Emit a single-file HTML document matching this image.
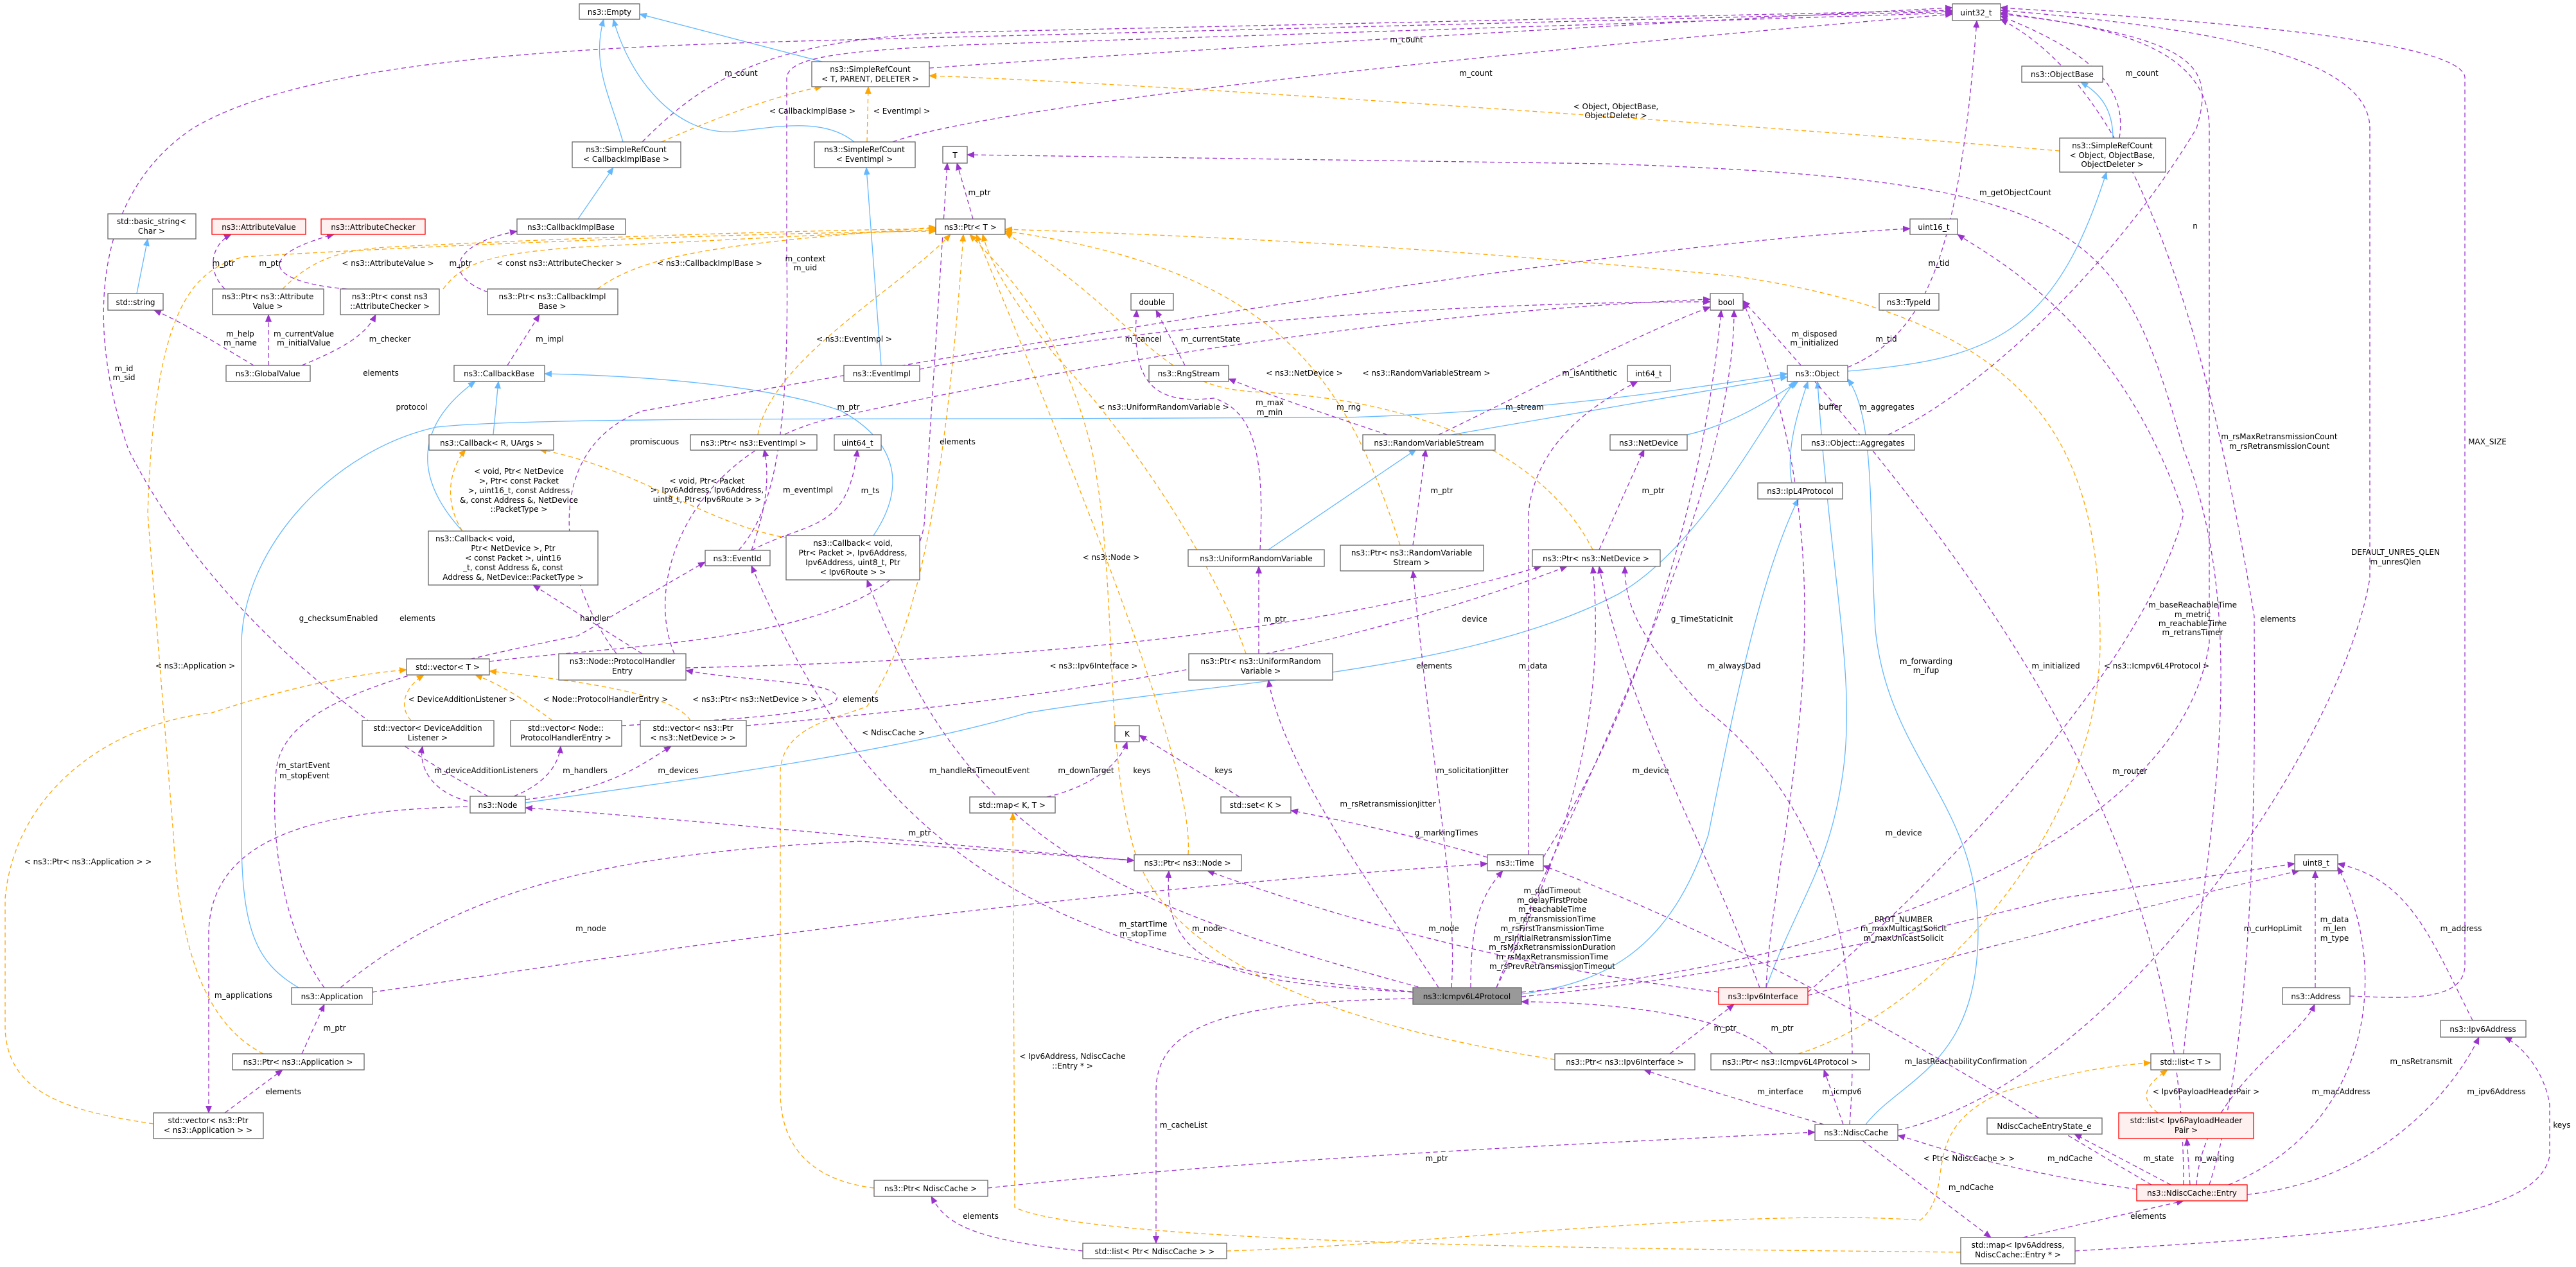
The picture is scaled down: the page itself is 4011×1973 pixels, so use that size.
<!DOCTYPE html>
<html><head><meta charset="utf-8"><style>
html,body{margin:0;padding:0;background:#fff}
svg{display:block}
text{font-family:"DejaVu Sans","Liberation Sans",sans-serif;font-size:12px;fill:#000}
.n{fill:#fff;stroke:#666;stroke-width:1.3}
.r{fill:#fff0f0;stroke:#f00;stroke-width:1.3}
.g{fill:#999;stroke:#666;stroke-width:1.3}
.p{fill:none;stroke:#9a32cd;stroke-width:1.3;stroke-dasharray:7,5}
.o{fill:none;stroke:#ffa500;stroke-width:1.3;stroke-dasharray:7,5}
.b{fill:none;stroke:#63b8ff;stroke-width:1.3}
</style></head><body>
<svg width="4011" height="1973" viewBox="0 0 4011 1973" xmlns="http://www.w3.org/2000/svg">
<defs>
<marker id="mp" markerWidth="12" markerHeight="10" refX="11" refY="5" orient="auto" markerUnits="userSpaceOnUse"><path d="M0,0 L12,5 L0,10 z" fill="#9a32cd"/></marker>
<marker id="mo" markerWidth="12" markerHeight="10" refX="11" refY="5" orient="auto" markerUnits="userSpaceOnUse"><path d="M0,0 L12,5 L0,10 z" fill="#ffa500"/></marker>
<marker id="mb" markerWidth="12" markerHeight="10" refX="11" refY="5" orient="auto" markerUnits="userSpaceOnUse"><path d="M0,0 L12,5 L0,10 z" fill="#63b8ff"/></marker>
</defs>
<g id="blue" marker-end="url(#mb)">
<path class="b" d="M1280,96 L996,22"/>
<path class="b" d="M970,221 C950,150 920,100 940,30"/>
<path class="b" d="M1330,221 C1280,180 1200,200 1140,205 C1050,210 980,120 955,30"/>
<path class="b" d="M900,341 L955,261"/>
<path class="b" d="M213,457 L230,372"/>
<path class="b" d="M768,677 L776,594"/>
<path class="b" d="M720,827 C640,740 650,660 740,594"/>
<path class="b" d="M1360,834 C1410,760 1400,690 1310,640 C1200,600 1000,585 848,582"/>
<path class="b" d="M1372,569 L1349,261"/>
<path class="b" d="M818,1250 C1100,1210 1400,1170 1600,1110 C1900,1060 2280,1050 2520,925 C2650,850 2750,650 2795,594"/>
<path class="b" d="M465,1538 C400,1500 376,1450 376,1300 L376,1000 C380,850 520,700 680,665 C800,652 1200,652 1600,652 L2100,650 C2400,640 2600,610 2783,582"/>
<path class="b" d="M2260,677 L2783,587"/>
<path class="b" d="M2627,677 C2700,660 2760,620 2800,594"/>
<path class="b" d="M1975,856 L2205,700"/>
<path class="b" d="M2790,752 C2780,700 2800,640 2815,594"/>
<path class="b" d="M2369,1548 C2500,1530 2600,1480 2660,1300 C2700,1100 2740,900 2800,777"/>
<path class="b" d="M2750,1538 C2800,1400 2850,1350 2870,1200 C2890,1050 2850,900 2830,594"/>
<path class="b" d="M2905,1751 C2960,1680 3080,1660 3080,1450 C3080,1250 2940,1180 2920,980 C2910,800 2920,650 2877,590"/>
<path class="b" d="M2877,578 C3100,560 3200,520 3280,268"/>
<path class="b" d="M3290,215 C3290,170 3270,145 3240,128"/>
</g>
<g id="orange" marker-end="url(#mo)">
<path class="o" d="M1030,221 C1100,190 1200,150 1280,135"/>
<path class="o" d="M1350,221 L1352,135"/>
<path class="o" d="M3207,235 C2800,200 1800,130 1447,118"/>
<path class="o" d="M440,450 C480,410 520,390 600,385 C900,370 1200,360 1457,356"/>
<path class="o" d="M690,450 C720,410 760,395 900,385 C1200,370 1350,362 1457,358"/>
<path class="o" d="M930,450 C1000,400 1100,380 1457,354"/>
<path class="o" d="M1180,677 C1200,560 1400,450 1480,365"/>
<path class="o" d="M410,1641 C330,1600 280,1500 270,1300 L230,800 C240,500 290,420 380,400 C700,380 1200,362 1457,360"/>
<path class="o" d="M1850,1331 C1860,1200 1700,800 1520,365"/>
<path class="o" d="M2421,1650 C2100,1600 1800,1500 1760,1300 C1720,1150 1740,900 1700,700 C1650,500 1560,420 1510,365"/>
<path class="o" d="M1940,1018 C1900,900 1780,700 1640,550 C1580,470 1545,420 1530,365"/>
<path class="o" d="M2180,849 C2100,600 2000,420 1565,360"/>
<path class="o" d="M2480,856 C2400,700 2200,620 1950,610 C1800,600 1780,500 1565,362"/>
<path class="o" d="M2800,1641 C3000,1580 3270,1300 3270,1000 C3270,700 3180,500 2700,430 C2200,380 1800,365 1565,357"/>
<path class="o" d="M1361,1850 C1280,1840 1215,1800 1215,1700 L1215,1200 C1220,1130 1300,1120 1350,1100 C1420,1000 1470,800 1500,365"/>
<path class="o" d="M640,1122 C620,1100 630,1070 660,1051"/>
<path class="o" d="M860,1122 C830,1100 790,1070 740,1051"/>
<path class="o" d="M1075,1122 C1050,1080 900,1060 762,1045"/>
<path class="o" d="M239,1750 C100,1730 10,1700 8,1600 L8,1400 C20,1250 150,1130 330,1110 C450,1070 550,1050 633,1043"/>
<path class="o" d="M3053,1950 C2600,1945 1700,1940 1580,1880 L1577,1266"/>
<path class="o" d="M1910,1948 C2200,1940 2700,1880 2990,1900 C3050,1850 2980,1760 3120,1700 C3220,1670 3280,1660 3349,1655"/>
<path class="o" d="M3360,1733 C3330,1710 3340,1690 3375,1666"/>
<path class="o" d="M720,827 C690,780 700,730 725,700"/>
<path class="o" d="M1240,840 C1100,820 1000,730 840,700"/>
</g>
<g id="purple" marker-end="url(#mp)">
<path class="p" d="M1000,221 C1100,120 1200,60 1500,50 L3040,16"/>
<path class="p" d="M1390,221 C1500,180 2000,110 3040,22"/>
<path class="p" d="M1447,106 C1800,80 2500,40 3040,12"/>
<path class="p" d="M760,1240 C500,1100 300,900 200,700 C130,500 150,300 300,200 C500,80 1000,70 1400,60 L3040,18"/>
<path class="p" d="M1150,857 C1200,800 1230,700 1225,400 L1225,120 C1230,90 1300,80 1500,70 L3040,20"/>
<path class="p" d="M2877,572 C3000,520 3050,400 3078,32"/>
<path class="p" d="M3300,215 C3310,150 3280,90 3115,25"/>
<path class="p" d="M2940,677 C3100,600 3300,400 3420,200 C3450,100 3420,60 3115,20"/>
<path class="p" d="M2369,1545 C2900,1500 3400,1300 3440,1000 L3440,200 C3440,80 3300,40 3115,22"/>
<path class="p" d="M3440,1845 C3520,1600 3510,1100 3510,960 C3450,600 3350,150 3115,30"/>
<path class="p" d="M2955,1760 C3300,1680 3650,1150 3690,900 L3690,200 C3690,80 3400,40 3115,16"/>
<path class="p" d="M3659,1551 C3750,1555 3840,1560 3838,1500 L3838,120 C3830,60 3400,30 3115,12"/>
<path class="p" d="M1515,341 L1490,254"/>
<path class="p" d="M762,1030 C1000,1000 1440,1000 1440,800 L1475,254"/>
<path class="p" d="M3400,1641 C3420,1400 3520,1000 3400,700 C3300,350 3250,280 2500,255 L1506,241"/>
<path class="p" d="M350,450 C320,420 330,380 360,365"/>
<path class="p" d="M540,450 C420,440 390,400 520,365"/>
<path class="p" d="M760,455 C690,430 700,380 805,360"/>
<path class="p" d="M395,569 C330,530 280,500 240,483"/>
<path class="p" d="M418,569 L418,490"/>
<path class="p" d="M470,569 C540,540 570,520 585,490"/>
<path class="p" d="M790,569 L840,490"/>
<path class="p" d="M1170,857 C1190,800 1200,750 1190,700"/>
<path class="p" d="M1170,857 C1260,810 1320,830 1335,700"/>
<path class="p" d="M505,1538 C440,1450 420,1300 430,1200 C440,1100 600,1050 900,990 L1098,875"/>
<path class="p" d="M1845,569 L1800,483"/>
<path class="p" d="M1962,856 C1970,700 1950,640 1890,620 C1800,630 1760,600 1770,483"/>
<path class="p" d="M1432,575 C1800,500 2300,470 2663,470"/>
<path class="p" d="M2240,677 C2400,600 2550,520 2663,478"/>
<path class="p" d="M2160,677 C2050,640 1990,620 1913,590"/>
<path class="p" d="M2200,849 L2220,700"/>
<path class="p" d="M2490,856 L2560,700"/>
<path class="p" d="M1960,1018 L1960,882"/>
<path class="p" d="M1068,1040 C1500,1030 2000,1000 2400,882"/>
<path class="p" d="M1000,1018 L830,911"/>
<path class="p" d="M1162,1130 C1500,1100 2000,1050 2440,882"/>
<path class="p" d="M2380,1331 L2380,800 C2390,680 2500,620 2550,594"/>
<path class="p" d="M2403,1335 C2550,1100 2650,800 2680,483"/>
<path class="p" d="M2290,1538 C2290,1450 2300,1400 2340,1356"/>
<path class="p" d="M3350,1845 C3100,1700 2800,1500 2403,1348"/>
<path class="p" d="M580,1545 C900,1500 1500,1400 2316,1345"/>
<path class="p" d="M530,1538 C700,1400 900,1330 1340,1310 L1766,1340"/>
<path class="p" d="M2200,1545 C1900,1530 1810,1500 1820,1356"/>
<path class="p" d="M2676,1545 C2300,1500 2000,1400 1880,1356"/>
<path class="p" d="M1766,1340 C1300,1300 1000,1270 818,1258"/>
<path class="p" d="M740,1256 C500,1260 330,1300 325,1450 L325,1733"/>
<path class="p" d="M470,1641 L505,1564"/>
<path class="p" d="M350,1733 L440,1666"/>
<path class="p" d="M740,1250 C680,1240 650,1200 658,1162"/>
<path class="p" d="M800,1240 C850,1220 870,1190 873,1162"/>
<path class="p" d="M818,1245 C950,1230 1000,1190 1045,1162"/>
<path class="p" d="M968,1130 C1150,1120 1330,1110 1300,1080 C1280,1060 1150,1060 1068,1044"/>
<path class="p" d="M2220,1540 C1700,1400 1500,1300 1350,903"/>
<path class="p" d="M2210,1545 C1600,1500 1350,1300 1170,881"/>
<path class="p" d="M1630,1241 C1680,1230 1740,1200 1755,1155"/>
<path class="p" d="M1930,1241 L1774,1145"/>
<path class="p" d="M2316,1335 C2200,1300 2100,1280 2010,1262"/>
<path class="p" d="M2240,1538 C2150,1400 2000,1200 1975,1059"/>
<path class="p" d="M2260,1538 C2270,1400 2230,1200 2200,889"/>
<path class="p" d="M2330,1538 C2450,1300 2500,1100 2480,882"/>
<path class="p" d="M2740,1538 C2650,1300 2530,1100 2490,882"/>
<path class="p" d="M2880,1751 C2900,1500 2850,1250 2650,1100 C2560,1000 2530,950 2530,882"/>
<path class="p" d="M2330,1538 C2420,1300 2700,800 2700,483"/>
<path class="p" d="M2750,1538 C2760,1300 2900,900 2714,470"/>
<path class="p" d="M3400,1845 C3400,1400 3200,1000 2714,468"/>
<path class="p" d="M2815,1545 C3100,1300 3350,1000 3400,800 C3300,500 3100,400 3048,365"/>
<path class="p" d="M960,1018 C870,900 840,700 1000,640 C1500,550 2500,380 2974,356"/>
<path class="p" d="M1050,1018 C1000,900 1080,700 1300,650 C1800,540 2300,480 2663,466"/>
<path class="p" d="M2369,1552 C2700,1520 3000,1450 3200,1400 L3573,1345"/>
<path class="p" d="M2815,1550 C3000,1500 3300,1420 3580,1356"/>
<path class="p" d="M3605,1538 L3605,1356"/>
<path class="p" d="M3850,1589 C3780,1450 3750,1370 3640,1345"/>
<path class="p" d="M3420,1845 C3430,1700 3580,1620 3604,1564"/>
<path class="p" d="M3499,1860 C3700,1840 3820,1700 3860,1615"/>
<path class="p" d="M3231,1948 C3700,1920 3950,1900 3970,1800 L3970,1720 C3960,1660 3920,1625 3900,1615"/>
<path class="p" d="M3470,1845 C3700,1750 3720,1500 3640,1350"/>
<path class="p" d="M3327,1852 C3100,1820 3000,1780 2955,1768"/>
<path class="p" d="M2900,1776 L3100,1927"/>
<path class="p" d="M3150,1927 L3400,1870"/>
<path class="p" d="M3380,1845 L3230,1766"/>
<path class="p" d="M3410,1845 L3405,1773"/>
<path class="p" d="M2840,1751 C2700,1710 2600,1680 2560,1666"/>
<path class="p" d="M2870,1751 L2840,1666"/>
<path class="p" d="M2600,1641 L2700,1564"/>
<path class="p" d="M2760,1641 C2700,1580 2500,1560 2369,1560"/>
<path class="p" d="M1538,1850 C2000,1800 2500,1780 2826,1763"/>
<path class="p" d="M1686,1948 C1500,1930 1470,1900 1450,1863"/>
<path class="p" d="M2200,1555 C1900,1560 1800,1600 1800,1700 L1800,1936"/>
</g>
<g id="nodes">
<rect class="n" x="902" y="6" width="94" height="24"/><text x="949" y="23" text-anchor="middle">ns3::Empty</text>
<rect class="n" x="1264" y="96" width="183" height="39"/><text x="1355" y="112" text-anchor="middle">ns3::SimpleRefCount</text><text x="1355" y="127" text-anchor="middle">&lt; T, PARENT, DELETER &gt;</text>
<rect class="n" x="891" y="221" width="169" height="40"/><text x="975" y="237" text-anchor="middle">ns3::SimpleRefCount</text><text x="975" y="252" text-anchor="middle">&lt; CallbackImplBase &gt;</text>
<rect class="n" x="1268" y="221" width="157" height="40"/><text x="1346" y="237" text-anchor="middle">ns3::SimpleRefCount</text><text x="1346" y="252" text-anchor="middle">&lt; EventImpl &gt;</text>
<rect class="n" x="1468" y="228" width="38" height="26"/><text x="1487" y="246" text-anchor="middle">T</text>
<rect class="n" x="3040" y="6" width="75" height="26"/><text x="3077" y="24" text-anchor="middle">uint32_t</text>
<rect class="n" x="3148" y="103" width="126" height="25"/><text x="3211" y="120" text-anchor="middle">ns3::ObjectBase</text>
<rect class="n" x="3207" y="215" width="165" height="53"/><text x="3289" y="231" text-anchor="middle">ns3::SimpleRefCount</text><text x="3289" y="246" text-anchor="middle">&lt; Object, ObjectBase,</text><text x="3289" y="260" text-anchor="middle">ObjectDeleter &gt;</text>
<rect class="n" x="168" y="333" width="137" height="39"/><text x="236" y="349" text-anchor="middle">std::basic_string&lt;</text><text x="236" y="364" text-anchor="middle">Char &gt;</text>
<rect class="r" x="330" y="341" width="146" height="24"/><text x="403" y="358" text-anchor="middle">ns3::AttributeValue</text>
<rect class="r" x="500" y="341" width="162" height="24"/><text x="581" y="358" text-anchor="middle">ns3::AttributeChecker</text>
<rect class="n" x="805" y="341" width="169" height="24"/><text x="889" y="358" text-anchor="middle">ns3::CallbackImplBase</text>
<rect class="n" x="1457" y="341" width="108" height="24"/><text x="1511" y="358" text-anchor="middle">ns3::Ptr&lt; T &gt;</text>
<rect class="n" x="2974" y="341" width="74" height="24"/><text x="3011" y="358" text-anchor="middle">uint16_t</text>
<rect class="n" x="168" y="457" width="86" height="26"/><text x="211" y="475" text-anchor="middle">std::string</text>
<rect class="n" x="331" y="450" width="173" height="40"/><text x="417" y="466" text-anchor="middle">ns3::Ptr&lt; ns3::Attribute</text><text x="417" y="481" text-anchor="middle">Value &gt;</text>
<rect class="n" x="530" y="450" width="154" height="40"/><text x="607" y="466" text-anchor="middle">ns3::Ptr&lt; const ns3</text><text x="607" y="481" text-anchor="middle">::AttributeChecker &gt;</text>
<rect class="n" x="759" y="450" width="203" height="40"/><text x="860" y="466" text-anchor="middle">ns3::Ptr&lt; ns3::CallbackImpl</text><text x="860" y="481" text-anchor="middle">Base &gt;</text>
<rect class="n" x="1761" y="457" width="66" height="26"/><text x="1794" y="475" text-anchor="middle">double</text>
<rect class="n" x="2663" y="457" width="51" height="26"/><text x="2688" y="475" text-anchor="middle">bool</text>
<rect class="n" x="2926" y="457" width="93" height="26"/><text x="2972" y="475" text-anchor="middle">ns3::TypeId</text>
<rect class="n" x="352" y="569" width="131" height="25"/><text x="417" y="586" text-anchor="middle">ns3::GlobalValue</text>
<rect class="n" x="707" y="569" width="141" height="25"/><text x="777" y="586" text-anchor="middle">ns3::CallbackBase</text>
<rect class="n" x="1314" y="569" width="118" height="25"/><text x="1373" y="586" text-anchor="middle">ns3::EventImpl</text>
<rect class="n" x="1789" y="569" width="124" height="25"/><text x="1851" y="586" text-anchor="middle">ns3::RngStream</text>
<rect class="n" x="2534" y="569" width="67" height="25"/><text x="2567" y="586" text-anchor="middle">int64_t</text>
<rect class="n" x="2783" y="569" width="94" height="25"/><text x="2830" y="586" text-anchor="middle">ns3::Object</text>
<rect class="n" x="668" y="677" width="194" height="24"/><text x="765" y="694" text-anchor="middle">ns3::Callback&lt; R, UArgs &gt;</text>
<rect class="n" x="1075" y="677" width="197" height="24"/><text x="1173" y="694" text-anchor="middle">ns3::Ptr&lt; ns3::EventImpl &gt;</text>
<rect class="n" x="1299" y="677" width="73" height="24"/><text x="1335" y="694" text-anchor="middle">uint64_t</text>
<rect class="n" x="2122" y="677" width="206" height="24"/><text x="2225" y="694" text-anchor="middle">ns3::RandomVariableStream</text>
<rect class="n" x="2507" y="677" width="120" height="24"/><text x="2567" y="694" text-anchor="middle">ns3::NetDevice</text>
<rect class="n" x="2805" y="677" width="176" height="24"/><text x="2893" y="694" text-anchor="middle">ns3::Object::Aggregates</text>
<rect class="n" x="2737" y="752" width="132" height="25"/><text x="2803" y="769" text-anchor="middle">ns3::IpL4Protocol</text>
<rect class="n" x="667" y="827" width="264" height="84"/><text x="678" y="843">ns3::Callback&lt; void,</text><text x="799" y="858" text-anchor="middle">Ptr&lt; NetDevice &gt;, Ptr</text><text x="799" y="873" text-anchor="middle">&lt; const Packet &gt;, uint16</text><text x="799" y="888" text-anchor="middle">_t, const Address &amp;, const</text><text x="799" y="903" text-anchor="middle">Address &amp;, NetDevice::PacketType &gt;</text>
<rect class="n" x="1098" y="857" width="101" height="24"/><text x="1148" y="874" text-anchor="middle">ns3::EventId</text>
<rect class="n" x="1224" y="834" width="208" height="69"/><text x="1328" y="850" text-anchor="middle">ns3::Callback&lt; void,</text><text x="1328" y="865" text-anchor="middle">Ptr&lt; Packet &gt;, Ipv6Address,</text><text x="1328" y="880" text-anchor="middle">Ipv6Address, uint8_t, Ptr</text><text x="1328" y="895" text-anchor="middle">&lt; Ipv6Route &gt; &gt;</text>
<rect class="n" x="1850" y="856" width="212" height="26"/><text x="1956" y="874" text-anchor="middle">ns3::UniformRandomVariable</text>
<rect class="n" x="2087" y="849" width="223" height="40"/><text x="2198" y="865" text-anchor="middle">ns3::Ptr&lt; ns3::RandomVariable</text><text x="2198" y="880" text-anchor="middle">Stream &gt;</text>
<rect class="n" x="2386" y="856" width="199" height="26"/><text x="2485" y="874" text-anchor="middle">ns3::Ptr&lt; ns3::NetDevice &gt;</text>
<rect class="n" x="633" y="1026" width="129" height="25"/><text x="697" y="1043" text-anchor="middle">std::vector&lt; T &gt;</text>
<rect class="n" x="870" y="1018" width="198" height="41"/><text x="969" y="1034" text-anchor="middle">ns3::Node::ProtocolHandler</text><text x="969" y="1049" text-anchor="middle">Entry</text>
<rect class="n" x="1851" y="1018" width="224" height="41"/><text x="1963" y="1034" text-anchor="middle">ns3::Ptr&lt; ns3::UniformRandom</text><text x="1963" y="1049" text-anchor="middle">Variable &gt;</text>
<rect class="n" x="564" y="1122" width="205" height="40"/><text x="666" y="1138" text-anchor="middle">std::vector&lt; DeviceAddition</text><text x="666" y="1153" text-anchor="middle">Listener &gt;</text>
<rect class="n" x="795" y="1122" width="173" height="40"/><text x="881" y="1138" text-anchor="middle">std::vector&lt; Node::</text><text x="881" y="1153" text-anchor="middle">ProtocolHandlerEntry &gt;</text>
<rect class="n" x="997" y="1122" width="165" height="40"/><text x="1079" y="1138" text-anchor="middle">std::vector&lt; ns3::Ptr</text><text x="1079" y="1153" text-anchor="middle">&lt; ns3::NetDevice &gt; &gt;</text>
<rect class="n" x="1736" y="1130" width="38" height="25"/><text x="1755" y="1147" text-anchor="middle">K</text>
<rect class="n" x="732" y="1240" width="86" height="26"/><text x="775" y="1258" text-anchor="middle">ns3::Node</text>
<rect class="n" x="1510" y="1241" width="133" height="25"/><text x="1576" y="1258" text-anchor="middle">std::map&lt; K, T &gt;</text>
<rect class="n" x="1901" y="1241" width="109" height="25"/><text x="1955" y="1258" text-anchor="middle">std::set&lt; K &gt;</text>
<rect class="n" x="1766" y="1331" width="167" height="25"/><text x="1849" y="1348" text-anchor="middle">ns3::Ptr&lt; ns3::Node &gt;</text>
<rect class="n" x="2316" y="1331" width="87" height="25"/><text x="2359" y="1348" text-anchor="middle">ns3::Time</text>
<rect class="n" x="3573" y="1331" width="67" height="25"/><text x="3606" y="1348" text-anchor="middle">uint8_t</text>
<rect class="n" x="454" y="1538" width="126" height="26"/><text x="517" y="1556" text-anchor="middle">ns3::Application</text>
<rect class="g" x="2200" y="1538" width="169" height="26"/><text x="2284" y="1556" text-anchor="middle">ns3::Icmpv6L4Protocol</text>
<rect class="r" x="2676" y="1538" width="139" height="26"/><text x="2745" y="1556" text-anchor="middle">ns3::Ipv6Interface</text>
<rect class="n" x="3554" y="1538" width="105" height="26"/><text x="3606" y="1556" text-anchor="middle">ns3::Address</text>
<rect class="n" x="3800" y="1589" width="133" height="26"/><text x="3866" y="1607" text-anchor="middle">ns3::Ipv6Address</text>
<rect class="n" x="362" y="1641" width="205" height="25"/><text x="464" y="1658" text-anchor="middle">ns3::Ptr&lt; ns3::Application &gt;</text>
<rect class="n" x="2421" y="1641" width="218" height="25"/><text x="2530" y="1658" text-anchor="middle">ns3::Ptr&lt; ns3::Ipv6Interface &gt;</text>
<rect class="n" x="2664" y="1641" width="247" height="25"/><text x="2787" y="1658" text-anchor="middle">ns3::Ptr&lt; ns3::Icmpv6L4Protocol &gt;</text>
<rect class="n" x="3349" y="1641" width="108" height="25"/><text x="3403" y="1658" text-anchor="middle">std::list&lt; T &gt;</text>
<rect class="n" x="239" y="1733" width="171" height="40"/><text x="324" y="1749" text-anchor="middle">std::vector&lt; ns3::Ptr</text><text x="324" y="1764" text-anchor="middle">&lt; ns3::Application &gt; &gt;</text>
<rect class="n" x="2826" y="1751" width="129" height="25"/><text x="2890" y="1768" text-anchor="middle">ns3::NdiscCache</text>
<rect class="n" x="3094" y="1741" width="179" height="25"/><text x="3183" y="1758" text-anchor="middle">NdiscCacheEntryState_e</text>
<rect class="r" x="3299" y="1733" width="210" height="40"/><text x="3404" y="1749" text-anchor="middle">std::list&lt; Ipv6PayloadHeader</text><text x="3404" y="1764" text-anchor="middle">Pair &gt;</text>
<rect class="n" x="1361" y="1838" width="177" height="25"/><text x="1449" y="1855" text-anchor="middle">ns3::Ptr&lt; NdiscCache &gt;</text>
<rect class="r" x="3327" y="1845" width="172" height="25"/><text x="3413" y="1862" text-anchor="middle">ns3::NdiscCache::Entry</text>
<rect class="n" x="3053" y="1927" width="178" height="41"/><text x="3142" y="1943" text-anchor="middle">std::map&lt; Ipv6Address,</text><text x="3142" y="1958" text-anchor="middle">NdiscCache::Entry * &gt;</text>
<rect class="n" x="1686" y="1936" width="224" height="24"/><text x="1798" y="1953" text-anchor="middle">std::list&lt; Ptr&lt; NdiscCache &gt; &gt;</text>
</g>
<g id="labels" text-anchor="middle">
<text x="1154" y="118">m_count</text>
<text x="1265" y="177">&lt; CallbackImplBase &gt;</text>
<text x="1404" y="177">&lt; EventImpl &gt;</text>
<text x="2190" y="66">m_count</text>
<text x="2298" y="118">m_count</text>
<text x="2516" y="170">&lt; Object, ObjectBase,</text><text x="2516" y="184">ObjectDeleter &gt;</text>
<text x="3335" y="118">m_count</text>
<text x="3138" y="304">m_getObjectCount</text>
<text x="3418" y="356">n</text>
<text x="1525" y="304">m_ptr</text>
<text x="348" y="414">m_ptr</text>
<text x="421" y="414">m_ptr</text>
<text x="604" y="414">&lt; ns3::AttributeValue &gt;</text>
<text x="717" y="414">m_ptr</text>
<text x="871" y="414">&lt; const ns3::AttributeChecker &gt;</text>
<text x="1105" y="414">&lt; ns3::CallbackImplBase &gt;</text>
<text x="1254" y="407">m_context</text><text x="1254" y="421">m_uid</text>
<text x="3019" y="414">m_tid</text>
<text x="374" y="524">m_help</text><text x="374" y="538">m_name</text>
<text x="473" y="524">m_currentValue</text><text x="473" y="538">m_initialValue</text>
<text x="607" y="532">m_checker</text>
<text x="856" y="532">m_impl</text>
<text x="1330" y="532">&lt; ns3::EventImpl &gt;</text>
<text x="1780" y="532">m_cancel</text>
<text x="1885" y="532">m_currentState</text>
<text x="2825" y="524">m_disposed</text><text x="2825" y="538">m_initialized</text>
<text x="2937" y="532">m_tid</text>
<text x="193" y="578">m_id</text><text x="193" y="592">m_sid</text>
<text x="593" y="585">elements</text>
<text x="2031" y="585">&lt; ns3::NetDevice &gt;</text>
<text x="2221" y="585">&lt; ns3::RandomVariableStream &gt;</text>
<text x="2475" y="585">m_isAntithetic</text>
<text x="641" y="638">protocol</text>
<text x="1321" y="638">m_ptr</text>
<text x="1812" y="638">&lt; ns3::UniformRandomVariable &gt;</text>
<text x="1977" y="631">m_max</text><text x="1977" y="646">m_min</text>
<text x="2100" y="638">m_rng</text>
<text x="2374" y="638">m_stream</text>
<text x="2850" y="638">buffer</text>
<text x="2938" y="638">m_aggregates</text>
<text x="1019" y="692">promiscuous</text>
<text x="1491" y="692">elements</text>
<text x="3549" y="684">m_rsMaxRetransmissionCount</text><text x="3549" y="699">m_rsRetransmissionCount</text>
<text x="3873" y="692">MAX_SIZE</text>
<text x="808" y="738">&lt; void, Ptr&lt; NetDevice</text><text x="808" y="753">&gt;, Ptr&lt; const Packet</text><text x="808" y="768">&gt;, uint16_t, const Address</text><text x="808" y="783">&amp;, const Address &amp;, NetDevice</text><text x="808" y="797">::PacketType &gt;</text>
<text x="1101" y="753">&lt; void, Ptr&lt; Packet</text><text x="1101" y="767">&gt;, Ipv6Address, Ipv6Address,</text><text x="1101" y="782">uint8_t, Ptr&lt; Ipv6Route &gt; &gt;</text>
<text x="1258" y="767">m_eventImpl</text>
<text x="1355" y="768">m_ts</text>
<text x="2245" y="768">m_ptr</text>
<text x="2574" y="768">m_ptr</text>
<text x="1730" y="872">&lt; ns3::Node &gt;</text>
<text x="3730" y="864">DEFAULT_UNRES_QLEN</text><text x="3730" y="879">m_unresQlen</text>
<text x="3414" y="946">m_baseReachableTime</text><text x="3414" y="961">m_metric</text><text x="3414" y="975">m_reachableTime</text><text x="3414" y="989">m_retransTimer</text>
<text x="527" y="967">g_checksumEnabled</text>
<text x="650" y="967">elements</text>
<text x="926" y="967">handler</text>
<text x="1985" y="968">m_ptr</text>
<text x="2296" y="968">device</text>
<text x="2650" y="968">g_TimeStaticInit</text>
<text x="3547" y="968">elements</text>
<text x="304" y="1041">&lt; ns3::Application &gt;</text>
<text x="1703" y="1041">&lt; ns3::Ipv6Interface &gt;</text>
<text x="2233" y="1041">elements</text>
<text x="2387" y="1041">m_data</text>
<text x="2700" y="1041">m_alwaysDad</text>
<text x="2999" y="1034">m_forwarding</text><text x="2999" y="1048">m_ifup</text>
<text x="3201" y="1041">m_initialized</text>
<text x="3358" y="1041">&lt; ns3::Icmpv6L4Protocol &gt;</text>
<text x="719" y="1093">&lt; DeviceAdditionListener &gt;</text>
<text x="943" y="1093">&lt; Node::ProtocolHandlerEntry &gt;</text>
<text x="1175" y="1093">&lt; ns3::Ptr&lt; ns3::NetDevice &gt; &gt;</text>
<text x="1340" y="1093">elements</text>
<text x="1391" y="1145">&lt; NdiscCache &gt;</text>
<text x="474" y="1196">m_startEvent</text><text x="474" y="1212">m_stopEvent</text>
<text x="757" y="1204">m_deviceAdditionListeners</text>
<text x="911" y="1204">m_handlers</text>
<text x="1056" y="1204">m_devices</text>
<text x="1525" y="1204">m_handleRsTimeoutEvent</text>
<text x="1691" y="1204">m_downTarget</text>
<text x="1778" y="1204">keys</text>
<text x="1905" y="1204">keys</text>
<text x="2293" y="1204">m_solicitationJitter</text>
<text x="2570" y="1204">m_device</text>
<text x="3316" y="1205">m_router</text>
<text x="2161" y="1256">m_rsRetransmissionJitter</text>
<text x="1432" y="1301">m_ptr</text>
<text x="2252" y="1301">g_markingTimes</text>
<text x="2964" y="1301">m_device</text>
<text x="137" y="1346">&lt; ns3::Ptr&lt; ns3::Application &gt; &gt;</text>
<text x="2417" y="1391">m_dadTimeout</text><text x="2417" y="1406">m_delayFirstProbe</text><text x="2417" y="1420">m_reachableTime</text><text x="2417" y="1435">m_retransmissionTime</text><text x="2417" y="1450">m_rsFirstTransmissionTime</text><text x="2417" y="1465">m_rsInitialRetransmissionTime</text><text x="2417" y="1479">m_rsMaxRetransmissionDuration</text><text x="2417" y="1494">m_rsMaxRetransmissionTime</text><text x="2417" y="1509">m_rsPrevRetransmissionTimeout</text>
<text x="2964" y="1436">PROT_NUMBER</text><text x="2964" y="1450">m_maxMulticastSolicit</text><text x="2964" y="1465">m_maxUnicastSolicit</text>
<text x="1780" y="1443">m_startTime</text><text x="1780" y="1458">m_stopTime</text>
<text x="920" y="1450">m_node</text>
<text x="1880" y="1450">m_node</text>
<text x="2248" y="1450">m_node</text>
<text x="3539" y="1450">m_curHopLimit</text>
<text x="3635" y="1436">m_data</text><text x="3635" y="1450">m_len</text><text x="3635" y="1465">m_type</text>
<text x="3832" y="1450">m_address</text>
<text x="379" y="1554">m_applications</text>
<text x="521" y="1605">m_ptr</text>
<text x="2686" y="1605">m_ptr</text>
<text x="2775" y="1605">m_ptr</text>
<text x="1670" y="1649">&lt; Ipv6Address, NdiscCache</text><text x="1670" y="1664">::Entry * &gt;</text>
<text x="3061" y="1657">m_lastReachabilityConfirmation</text>
<text x="3770" y="1657">m_nsRetransmit</text>
<text x="441" y="1704">elements</text>
<text x="2772" y="1704">m_interface</text>
<text x="2868" y="1704">m_icmpv6</text>
<text x="3435" y="1704">&lt; Ipv6PayloadHeaderPair &gt;</text>
<text x="3645" y="1704">m_macAddress</text>
<text x="3887" y="1704">m_ipv6Address</text>
<text x="1843" y="1756">m_cacheList</text>
<text x="3989" y="1756">keys</text>
<text x="2237" y="1808">m_ptr</text>
<text x="3066" y="1808">&lt; Ptr&lt; NdiscCache &gt; &gt;</text>
<text x="3223" y="1808">m_ndCache</text>
<text x="3361" y="1808">m_state</text>
<text x="3448" y="1808">m_waiting</text>
<text x="3069" y="1853">m_ndCache</text>
<text x="1527" y="1898">elements</text>
<text x="3345" y="1898">elements</text>
</g>
</svg>
</body></html>
